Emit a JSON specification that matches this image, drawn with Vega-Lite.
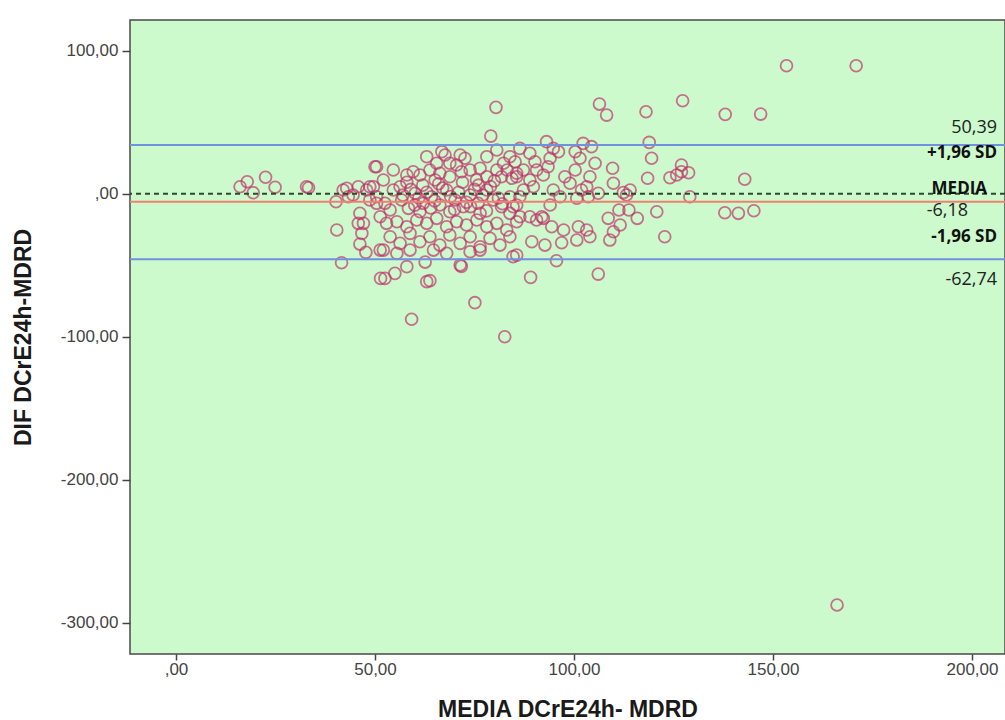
{
  "$schema": "https://vega.github.io/schema/vega-lite/v6.json",
  "width": 875,
  "height": 634,
  "autosize": {"type": "none"},
  "padding": {"left": 130, "top": 20, "right": 0, "bottom": 66},
  "background": "white",
  "config": {
    "view": {"fill": "#ccfacc", "stroke": "#4a4a4a", "strokeWidth": 1.5},
    "font": "Liberation Sans"
  },
  "datasets": {
    "points": [
      {"media":16.1,"dif":4.9},{"media":17.9,"dif":8.4},{"media":19.4,"dif":0.7},{"media":22.5,"dif":11.5},{"media":24.9,"dif":4.5},{"media":32.8,"dif":4.9},{"media":33.3,"dif":4.2},{"media":40.2,"dif":-5.6},{"media":40.4,"dif":-25.4},{"media":41.6,"dif":-48.3},{"media":42.0,"dif":2.6},{"media":43.3,"dif":-2.1},{"media":42.9,"dif":3.8},{"media":44.5,"dif":-0.9},{"media":45.8,"dif":4.9},{"media":47.9,"dif":2.6},{"media":49.6,"dif":4.9},{"media":48.7,"dif":-4.4},{"media":50.4,"dif":-6.7},{"media":50.0,"dif":18.9},{"media":46.2,"dif":-13.7},{"media":47.1,"dif":-20.7},{"media":45.8,"dif":-20.7},{"media":46.7,"dif":-27.7},{"media":46.2,"dif":-35.2},{"media":47.7,"dif":-41},{"media":51.3,"dif":-39.4},{"media":51.4,"dif":-59.2},{"media":55.0,"dif":-55.7},
      {"media":80.4,"dif":60.4},{"media":79.1,"dif":40.3},{"media":106.4,"dif":62.7},{"media":108.2,"dif":55},{"media":118.1,"dif":57.3},{"media":127.3,"dif":65},{"media":138,"dif":55.5},{"media":146.9,"dif":55.7},{"media":153.4,"dif":89.5},{"media":170.9,"dif":89.5},{"media":166.1,"dif":-287.6},{"media":59.2,"dif":-87.8},{"media":82.6,"dif":-100},{"media":75.1,"dif":-76.2},{"media":63,"dif":-61.5},{"media":63.8,"dif":-60.8},{"media":52.5,"dif":-59.2},{"media":58,"dif":-51},{"media":71.4,"dif":-49.9},{"media":71.7,"dif":-50.8},{"media":89.1,"dif":-58.5},{"media":95.6,"dif":-46.9},{"media":106.1,"dif":-56.2},{"media":62.6,"dif":-47.8},
      {"media":118.9,"dif":35.9},{"media":119.5,"dif":24.8},{"media":118.5,"dif":10.8},{"media":109.7,"dif":17.8},{"media":109.9,"dif":7.3},{"media":112.4,"dif":0.8},{"media":113.2,"dif":-0.9},{"media":114.1,"dif":2.6},{"media":111.3,"dif":-11.4},{"media":113.8,"dif":-11.4},{"media":115.9,"dif":-17.2},{"media":108.6,"dif":-17.2},{"media":111.6,"dif":-21.9},{"media":109.9,"dif":-26.6},{"media":109,"dif":-32.4},{"media":120.8,"dif":-12.6},{"media":103.2,"dif":-25.4},{"media":104,"dif":-30.1},{"media":101.1,"dif":-23.1},{"media":100.7,"dif":-32.4},{"media":96.9,"dif":-34.3},{"media":97.4,"dif":-25.4},{"media":92.7,"dif":-35.9},{"media":89.4,"dif":-33.6},{"media":94.4,"dif":-23.1},{"media":92.3,"dif":-17.2},{"media":93.1,"dif":36.4},{"media":94.8,"dif":31.7},{"media":96.1,"dif":29.4},{"media":102.3,"dif":35.2},{"media":104.4,"dif":32.9},{"media":100.3,"dif":29.4},{"media":101.5,"dif":24.8},{"media":105.3,"dif":21.3},{"media":104,"dif":11.9},{"media":103.2,"dif":4.9},{"media":101.9,"dif":2.6},{"media":97.7,"dif":11.9},{"media":99,"dif":7.3},{"media":100.3,"dif":16.6},{"media":100.7,"dif":-3.2},{"media":103.6,"dif":-2.1},{"media":106.1,"dif":0.3},{"media":94.8,"dif":2.6},{"media":96.5,"dif":-2.1},{"media":94,"dif":-7.9},{"media":91.9,"dif":-16.1},{"media":86.4,"dif":31.7},{"media":88.9,"dif":28.3},{"media":90.2,"dif":22.4},{"media":87.3,"dif":16.6},{"media":85.6,"dif":11.9},{"media":88.9,"dif":9.6},{"media":84.7,"dif":-9.1},{"media":86.4,"dif":-16.1},{"media":84.7,"dif":-44},{"media":85.6,"dif":-42.9},{"media":90.6,"dif":16.6},{"media":92.3,"dif":13.1},{"media":93.5,"dif":18.9},{"media":94,"dif":24.8},{"media":89.8,"dif":4.9},{"media":87.3,"dif":2.6},{"media":86.4,"dif":-2.1},{"media":88.9,"dif":-16.1},{"media":90.6,"dif":-18.4},
      {"media":127,"dif":20.1},{"media":128.8,"dif":14.7},{"media":125.8,"dif":13.1},{"media":124.1,"dif":11.2},{"media":127,"dif":15.4},{"media":142.9,"dif":10.1},{"media":129.1,"dif":-2.1},{"media":122.8,"dif":-30.1},{"media":137.9,"dif":-13.3},{"media":141.3,"dif":-13.7},{"media":145.2,"dif":-11.9},
      {"media":80.6,"dif":30.6},{"media":83.9,"dif":25.9},{"media":85.2,"dif":22.4},{"media":82.3,"dif":21.3},{"media":83.2,"dif":16.6},{"media":85.6,"dif":14.3},{"media":84.4,"dif":10.8},{"media":80.6,"dif":16.6},{"media":81.8,"dif":11.9},{"media":78.1,"dif":25.9},{"media":76.4,"dif":17.8},{"media":78.1,"dif":11.9},{"media":75.5,"dif":9.6},{"media":73.9,"dif":16.6},{"media":71.4,"dif":27.1},{"media":72.6,"dif":24.8},{"media":70.5,"dif":20.1},{"media":71.7,"dif":15.4},{"media":66.8,"dif":29.4},{"media":67.6,"dif":27.1},{"media":68.8,"dif":21.3},{"media":65.5,"dif":21.3},{"media":66.3,"dif":14.3},{"media":68.8,"dif":11.9},{"media":63,"dif":25.9},{"media":63.8,"dif":16.6},{"media":65.1,"dif":9.6},{"media":61.3,"dif":13.1},{"media":59.6,"dif":15.4},{"media":58,"dif":13.1},{"media":56.3,"dif":4.9},{"media":54.6,"dif":16.6},{"media":50.4,"dif":18.9},{"media":52.1,"dif":9.6},{"media":48.7,"dif":4.9},
      {"media":50.4,"dif":-2.1},{"media":52.5,"dif":-6.7},{"media":54.6,"dif":2.6},{"media":56.7,"dif":-4.4},{"media":58.4,"dif":-10.2},{"media":60.1,"dif":0.3},{"media":62.1,"dif":-6.7},{"media":64.2,"dif":-2.1},{"media":66.3,"dif":-7.9},{"media":68,"dif":2.6},{"media":70.1,"dif":-4.4},{"media":72.2,"dif":-9.1},{"media":73.9,"dif":-0.9},{"media":75.9,"dif":-6.7},{"media":78.1,"dif":2.6},{"media":79.7,"dif":-4.4},{"media":81.8,"dif":-9.1},{"media":83.9,"dif":-2.1},{"media":85.6,"dif":-7.9},{"media":53.8,"dif":-11.4},{"media":61.3,"dif":-12.6},{"media":68.8,"dif":-12.6},{"media":76.4,"dif":-13.7},{"media":83.9,"dif":-13.7},
      {"media":51.3,"dif":-16.1},{"media":52.9,"dif":-20.7},{"media":55.5,"dif":-19.6},{"media":58,"dif":-23.1},{"media":60.5,"dif":-18.4},{"media":63,"dif":-20.7},{"media":65.5,"dif":-17.2},{"media":68,"dif":-23.1},{"media":70.5,"dif":-19.6},{"media":73,"dif":-21.9},{"media":75.6,"dif":-18.4},{"media":78.1,"dif":-23.1},{"media":80.6,"dif":-20.7},{"media":83.1,"dif":-25.4},{"media":85.6,"dif":-19.6},
      {"media":53.8,"dif":-30.1},{"media":56.3,"dif":-34.7},{"media":58.8,"dif":-27.7},{"media":61.3,"dif":-33.6},{"media":63.8,"dif":-30.1},{"media":66.3,"dif":-35.9},{"media":68.8,"dif":-28.9},{"media":71.4,"dif":-34.7},{"media":73.9,"dif":-30.1},{"media":76.4,"dif":-37.1},{"media":78.9,"dif":-31.2},{"media":81.4,"dif":-35.9},{"media":83.9,"dif":-30.1},
      {"media":52.1,"dif":-39.4},{"media":55.5,"dif":-41.7},{"media":58.8,"dif":-39.4},{"media":64.7,"dif":-39.4},{"media":68,"dif":-41.7},{"media":73.9,"dif":-40.6},{"media":76.4,"dif":-39.4},
      {"media":57,"dif":-1},{"media":59,"dif":3},{"media":61,"dif":-3},{"media":63,"dif":1},{"media":65,"dif":-5},{"media":67,"dif":4},{"media":69,"dif":-2},{"media":71,"dif":1},{"media":73,"dif":-6},{"media":75,"dif":3},{"media":77,"dif":-1},{"media":79,"dif":5},{"media":81,"dif":-3},{"media":60,"dif":-8},{"media":64,"dif":-10},{"media":70,"dif":-11},{"media":74,"dif":-9},{"media":78,"dif":-12},{"media":82,"dif":-7},{"media":66,"dif":7},{"media":72,"dif":8},{"media":76,"dif":6},{"media":80,"dif":9},{"media":62,"dif":6},{"media":58,"dif":8}
    ],
    "limits": [{"dif": 34.1}, {"dif": -45.9}],
    "mean": [{"dif": -5.6}],
    "zero": [{"dif": 0}],
    "labelsRegular": [
      {"media": 206.3, "dif": 45.9, "label": "50,39"},
      {"media": 199.0, "dif": -11.8, "label": "-6,18"},
      {"media": 206.3, "dif": -60.3, "label": "-62,74"}
    ],
    "labelsBold": [
      {"media": 206.3, "dif": 28.5, "label": "+1,96 SD"},
      {"media": 203.8, "dif": 3.2, "label": "MEDIA"},
      {"media": 206.3, "dif": -30.3, "label": "-1,96 SD"}
    ]
  },
  "layer": [
    {
      "data": {"name": "points"},
      "mark": {"type": "point", "shape": "circle", "filled": false, "size": 140, "strokeWidth": 1.8, "color": "#c0306a", "opacity": 0.68},
      "encoding": {
        "x": {
          "field": "media", "type": "quantitative", "title": "MEDIA DCrE24h- MDRD",
          "scale": {"domain": [-11.56, 208.3], "nice": false, "zero": false},
          "axis": {
            "values": [0, 50, 100, 150, 200],
            "labelExpr": "datum.value == 0 ? ',00' : (datum.value < 0 ? '-' : '') + abs(datum.value) + ',00'",
            "grid": false, "domain": false,
            "labelFont": "Liberation Sans", "labelFontSize": 17, "labelColor": "#444444",
            "tickColor": "#444444", "tickSize": 6, "tickWidth": 1.5, "labelPadding": 1,
            "titleFont": "Liberation Sans", "titleFontSize": 23, "titleFontWeight": "bold", "titleColor": "#1a1a1a", "titlePadding": 21
          }
        },
        "y": {
          "field": "dif", "type": "quantitative", "title": "DIF DCrE24h-MDRD",
          "scale": {"domain": [-321.9, 121.5], "nice": false, "zero": false},
          "axis": {
            "values": [-300, -200, -100, 0, 100],
            "labelExpr": "datum.value == 0 ? ',00' : (datum.value < 0 ? '-' : '') + abs(datum.value) + ',00'",
            "grid": false, "domain": false,
            "labelFont": "Liberation Sans", "labelFontSize": 17, "labelColor": "#444444",
            "tickColor": "#444444", "tickSize": 8, "tickWidth": 1.5, "labelPadding": 4,
            "titleFont": "Liberation Sans", "titleFontSize": 23, "titleFontWeight": "bold", "titleColor": "#1a1a1a", "titlePadding": 25
          }
        }
      }
    },
    {
      "data": {"name": "limits"},
      "mark": {"type": "rule", "color": "#7090e0", "strokeWidth": 2},
      "encoding": {"y": {"field": "dif", "type": "quantitative", "title": "DIF DCrE24h-MDRD"}}
    },
    {
      "data": {"name": "mean"},
      "mark": {"type": "rule", "color": "#f08070", "strokeWidth": 2},
      "encoding": {"y": {"field": "dif", "type": "quantitative", "title": "DIF DCrE24h-MDRD"}}
    },
    {
      "data": {"name": "zero"},
      "mark": {"type": "rule", "color": "#2e4a2e", "strokeWidth": 2, "strokeDash": [5, 4]},
      "encoding": {"y": {"field": "dif", "type": "quantitative", "title": "DIF DCrE24h-MDRD"}}
    },
    {
      "data": {"name": "labelsRegular"},
      "mark": {"type": "text", "align": "right", "baseline": "middle", "font": "Open Sans", "fontSize": 18, "color": "#222222"},
      "encoding": {
        "x": {"field": "media", "type": "quantitative", "title": "MEDIA DCrE24h- MDRD"},
        "y": {"field": "dif", "type": "quantitative", "title": "DIF DCrE24h-MDRD"},
        "text": {"field": "label"}
      }
    },
    {
      "data": {"name": "labelsBold"},
      "mark": {"type": "text", "align": "right", "baseline": "middle", "font": "Open Sans", "fontSize": 17, "fontWeight": "bold", "color": "#111111"},
      "encoding": {
        "x": {"field": "media", "type": "quantitative", "title": "MEDIA DCrE24h- MDRD"},
        "y": {"field": "dif", "type": "quantitative", "title": "DIF DCrE24h-MDRD"},
        "text": {"field": "label"}
      }
    }
  ]
}
